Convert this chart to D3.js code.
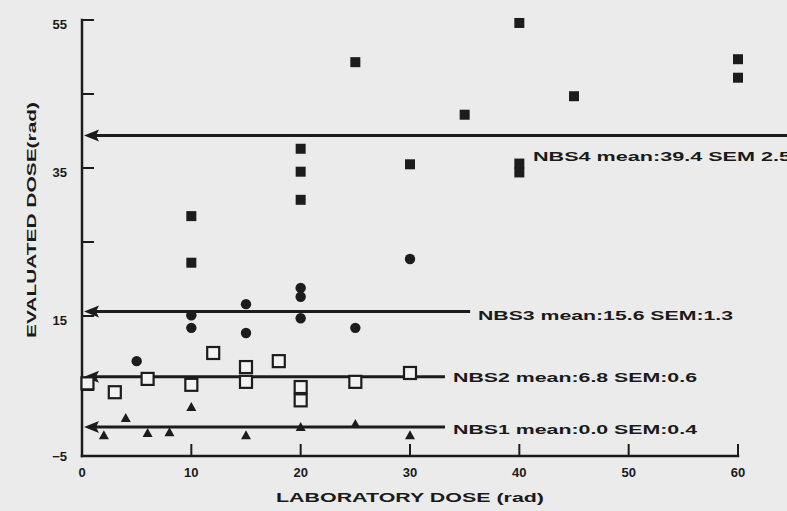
<!DOCTYPE html>
<html><head><meta charset="utf-8">
<script src="https://cdn.jsdelivr.net/npm/d3@7/dist/d3.min.js"></script>
<style>
html,body{margin:0;padding:0;background:#ebebeb;}
svg{display:block;}
text{font-family:"Liberation Sans","DejaVu Sans",Arial,sans-serif;font-weight:bold;fill:#1a1a1a;}
</style></head>
<body>
<svg id="chart" width="787" height="511"></svg>
<script>
// ---- data ----
const xTicks = [0, 10, 20, 30, 40, 50, 60];
const yTickMarks = [55, 45, 35, 25, 15, 5];
const yTickLabels = [55, 35, 15, -5];

const nbs1X = [2, 4, 6, 8, 10, 15, 20, 25, 30];
const nbs1Y = [-1.1, 1.2, -0.8, -0.7, 2.7, -1.1, 0.0, 0.4, -1.1];

const nbs2X = [0.5, 3, 6, 10, 12, 15, 15, 18, 20, 20, 25, 30];
const nbs2Y = [5.9, 4.7, 6.5, 5.7, 10.0, 8.1, 6.1, 8.9, 5.4, 3.6, 6.1, 7.3];

const nbs3X = [5, 10, 10, 15, 15, 20, 20, 20, 25, 30];
const nbs3Y = [8.9, 15.1, 13.4, 16.6, 12.7, 18.8, 17.6, 14.7, 13.4, 22.7];

const nbs4X = [10, 10, 20, 20, 20, 25, 30, 35, 40, 40, 40, 45, 60, 60];
const nbs4Y = [28.5, 22.2, 37.6, 34.5, 30.7, 49.3, 35.5, 42.2, 54.6, 35.6, 34.4, 44.7, 49.7, 47.2];

const meanNames = ["NBS4", "NBS3", "NBS2", "NBS1"];
const meanValues = [39.4, 15.6, 6.8, 0.0];
const meanLabels = ["NBS4  mean:39.4 SEM 2.5", "NBS3 mean:15.6 SEM:1.3", "NBS2 mean:6.8 SEM:0.6", "NBS1 mean:0.0 SEM:0.4"];
const meanLineEnd = [67.5, 35.5, 33.2, 33.2];   // x (data units) where each mean line stops

// ---- layout ----
const svg = d3.select("#chart");
const x = d3.scaleLinear().domain([0, 60]).range([82, 738]);
const y = d3.scaleLinear().domain([-5, 55]).range([464, 20]);
const axisY = 456;   // baseline of the printed x axis
const ink = "#1c1c1c";

// axes lines
svg.append("line").attr("x1", x(0)).attr("x2", x(60)).attr("y1", axisY).attr("y2", axisY)
  .attr("stroke", ink).attr("stroke-width", 2.5).attr("stroke-linecap", "square");
svg.append("line").attr("x1", x(0)).attr("x2", x(0)).attr("y1", axisY).attr("y2", y(55))
  .attr("stroke", ink).attr("stroke-width", 2.5).attr("stroke-linecap", "square");

// y tick marks (inside)
svg.selectAll(".yt").data(yTickMarks).join("line")
  .attr("x1", x(0)).attr("x2", x(0) + 12).attr("y1", d => y(d)).attr("y2", d => y(d))
  .attr("stroke", ink).attr("stroke-width", 2);
// x tick marks (inside)
svg.selectAll(".xt").data(xTicks.filter(d => d !== 0)).join("line")
  .attr("x1", d => x(d)).attr("x2", d => x(d)).attr("y1", axisY).attr("y2", axisY - 12)
  .attr("stroke", ink).attr("stroke-width", 2);

// tick labels
svg.selectAll(".yl").data(yTickLabels).join("text")
  .attr("x", 67).attr("y", d => d === -5 ? axisY : y(d) + 4).attr("dy", "0.36em")
  .attr("text-anchor", "end").attr("font-size", 13)
  .text(d => d < 0 ? "\u2212" + Math.abs(d) : d);
svg.selectAll(".xl").data(xTicks).join("text")
  .attr("x", d => x(d)).attr("y", 477)
  .attr("text-anchor", "middle").attr("font-size", 13)
  .text(d => d);

// axis titles
svg.append("text").attr("x", x(30)).attr("y", 502).attr("text-anchor", "middle")
  .attr("font-size", 12.5).attr("textLength", 268).attr("lengthAdjust", "spacingAndGlyphs")
  .text("LABORATORY DOSE (rad)");
svg.append("text").attr("transform", "translate(36,220) rotate(-90)").attr("text-anchor", "middle")
  .attr("font-size", 12.5).attr("textLength", 236).attr("lengthAdjust", "spacingAndGlyphs")
  .text("EVALUATED DOSE(rad)");

// mean lines with arrowheads
const meanData = meanValues.map((v, i) => ({v, end: meanLineEnd[i], label: meanLabels[i], name: meanNames[i]}));
svg.selectAll(".ml").data(meanData).join("line")
  .attr("x1", x(0) + 10).attr("x2", d => x(d.end)).attr("y1", d => y(d.v)).attr("y2", d => y(d.v))
  .attr("stroke", ink).attr("stroke-width", 3);
svg.selectAll(".mh").data(meanData).join("path")
  .attr("d", d => {
    const yy = y(d.v), x0 = x(0) + 2;
    return `M${x0},${yy} L${x0 + 15},${yy - 6} L${x0 + 12},${yy} L${x0 + 15},${yy + 6} Z`;
  })
  .attr("fill", ink);

// mean labels
const labelPos = [
  {dx: 533, dy: 21, w: 258},
  {dx: 478, dy: 4, w: 255},
  {dx: 453, dy: 1, w: 244},
  {dx: 453, dy: 2, w: 244}
];
svg.selectAll(".mt").data(meanData).join("text")
  .attr("x", (d, i) => labelPos[i].dx)
  .attr("y", (d, i) => y(d.v) + labelPos[i].dy).attr("dy", "0.36em")
  .attr("font-size", 13).attr("textLength", (d, i) => labelPos[i].w)
  .attr("lengthAdjust", "spacingAndGlyphs")
  .text(d => d.label);

// markers
const zip = (xs, ys) => xs.map((v, i) => ({x: v, y: ys[i]}));
// NBS4 filled squares
svg.selectAll(".s4").data(zip(nbs4X, nbs4Y)).join("rect")
  .attr("x", d => x(d.x) - 5).attr("y", d => y(d.y) - 5)
  .attr("width", 10).attr("height", 10).attr("fill", ink);
// NBS3 filled circles
svg.selectAll(".s3").data(zip(nbs3X, nbs3Y)).join("circle")
  .attr("cx", d => x(d.x)).attr("cy", d => y(d.y)).attr("r", 5.2).attr("fill", ink);
// NBS2 open squares
svg.selectAll(".s2").data(zip(nbs2X, nbs2Y)).join("rect")
  .attr("x", d => x(d.x) - 6).attr("y", d => y(d.y) - 6)
  .attr("width", 12).attr("height", 12)
  .attr("fill", "#f2f2f2").attr("stroke", ink).attr("stroke-width", 2.2);
// NBS1 triangles
svg.selectAll(".s1").data(zip(nbs1X, nbs1Y)).join("path")
  .attr("d", d => {
    const cx = x(d.x), cy = y(d.y);
    return `M${cx},${cy - 5} L${cx + 5},${cy + 4} L${cx - 5},${cy + 4} Z`;
  })
  .attr("fill", ink);
</script>
</body></html>
